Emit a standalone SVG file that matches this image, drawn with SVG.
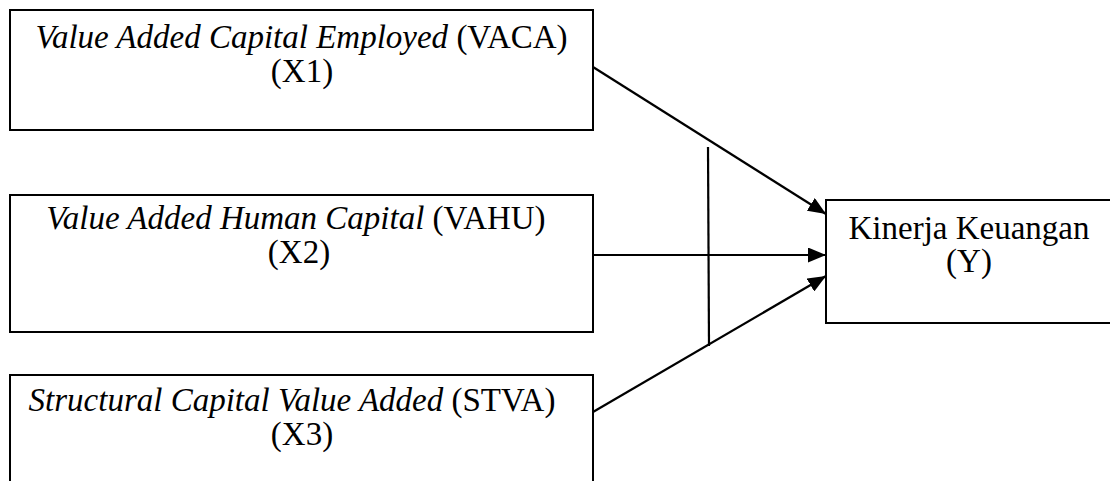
<svg xmlns="http://www.w3.org/2000/svg" width="1110" height="481" viewBox="0 0 1110 481">
  <style>
    .box { fill: #fff; stroke: #000; stroke-width: 2; }
    .t { font-family: 'Liberation Serif', 'Times New Roman', Times, serif; font-size: 33px; fill: #000; text-anchor: middle; }
    .i { font-style: italic; }
    .ln { stroke: #000; stroke-width: 2.2; fill: none; }
  </style>
  <defs>
    <marker id="arr" markerWidth="18" markerHeight="15" refX="18" refY="7.5" orient="auto" markerUnits="userSpaceOnUse">
      <path d="M0,0 L18,7.5 L0,15 Z" fill="#000"/>
    </marker>
  </defs>
  <rect width="1110" height="481" fill="#fff"/>
  <g id="x1">
    <rect class="box" x="10" y="10" width="583" height="120"/>
    <text class="t" x="301.5" y="48"><tspan class="i">Value Added Capital Employed</tspan> (VACA)</text>
    <text class="t" x="302" y="82">(X1)</text>
  </g>
  <g id="x2">
    <rect class="box" x="10" y="195" width="583" height="137"/>
    <text class="t" x="296" y="229"><tspan class="i">Value Added Human Capital</tspan> (VAHU)</text>
    <text class="t" x="299" y="263">(X2)</text>
  </g>
  <g id="x3">
    <rect class="box" x="10" y="375" width="583" height="120"/>
    <text class="t" x="292" y="411"><tspan class="i">Structural Capital Value Added</tspan> (STVA)</text>
    <text class="t" x="302" y="445">(X3)</text>
  </g>
  <g id="y">
    <rect class="box" x="826" y="200" width="300" height="123"/>
    <text class="t" x="969" y="239">Kinerja Keuangan</text>
    <text class="t" x="969" y="272">(Y)</text>
  </g>
  <g id="connectors">
    <line class="ln" x1="593" y1="67" x2="826" y2="214" marker-end="url(#arr)"/>
    <line class="ln" x1="593" y1="255" x2="826" y2="255" marker-end="url(#arr)"/>
    <line class="ln" x1="593" y1="412" x2="826" y2="276" marker-end="url(#arr)"/>
    <line class="ln" x1="708" y1="147" x2="709" y2="346"/>
  </g>
</svg>
